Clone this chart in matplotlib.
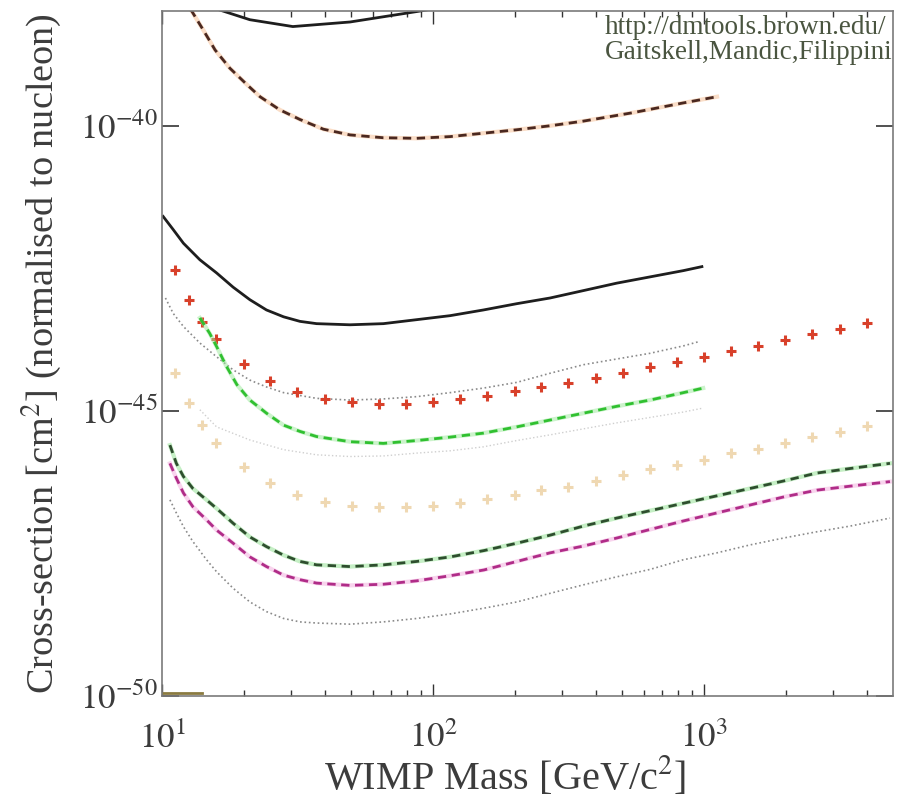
import numpy as np
import matplotlib.pyplot as plt
import matplotlib.ticker as ticker

plt.rcParams['font.family'] = ['Liberation Serif', 'DejaVu Serif']
plt.rcParams['mathtext.fontset'] = 'stix'

# WIMP masses in GeV/c^2, cross-sections given as log10(sigma / cm^2)
top_solid_mass = [11.5, 16.1, 21.1, 30.4, 49.4, 91.8, 130]
top_solid_logsig = [-37.3, -37.96, -38.14, -38.26, -38.18, -37.98, -37.85]

upper_dash_mass = [11.0, 12.9, 14.2, 15.7, 17.8, 20.6, 23.0, 27.2, 32.3, 39.4, 49.4,
                   65.6, 87.1, 115.6, 153.5, 203.7, 270.4, 357, 547, 837, 1117]
upper_dash_logsig = [-37.6, -37.995, -38.32, -38.67, -38.99, -39.28, -39.49, -39.72,
                     -39.89, -40.06, -40.16, -40.21, -40.22, -40.19, -40.13, -40.07,
                     -40.0, -39.92, -39.77, -39.60, -39.49]

mid_solid_mass = [10.1, 11.0, 12.0, 13.8, 15.9, 18.3, 21.1, 24.3, 28.1, 32.3, 37.2, 49.4,
                  65.6, 87.1, 115.6, 153.5, 203.7, 270.4, 359, 476, 632, 839, 982]
mid_solid_logsig = [-41.59, -41.82, -42.06, -42.35, -42.58, -42.83, -43.05, -43.23,
                    -43.35, -43.43, -43.47, -43.49, -43.47, -43.40, -43.33, -43.23,
                    -43.12, -43.02, -42.89, -42.76, -42.65, -42.54, -42.47]

cross_mass = [11.2, 12.6, 14.1, 15.8, 20.0, 25.1, 31.6, 39.8, 50.1, 63.1, 79.4, 100,
              126, 158, 200, 251, 316, 398, 501, 631, 794, 1000, 1259, 1585, 1995,
              2512, 3162, 3981]
red_cross_logsig = [-42.53, -43.05, -43.44, -43.74, -44.18, -44.47, -44.67, -44.79,
                    -44.84, -44.88, -44.88, -44.84, -44.79, -44.74, -44.65, -44.58,
                    -44.51, -44.42, -44.33, -44.23, -44.14, -44.05, -43.95, -43.86,
                    -43.75, -43.65, -43.56, -43.46]
tan_cross_logsig = [-44.33, -44.86, -45.25, -45.56, -45.98, -46.26, -46.47, -46.60,
                    -46.67, -46.68, -46.68, -46.67, -46.61, -46.54, -46.47, -46.39,
                    -46.33, -46.23, -46.12, -46.02, -45.95, -45.86, -45.74, -45.67,
                    -45.56, -45.46, -45.37, -45.26]

gray_dot_mass = [10.3, 11.0, 12.0, 13.8, 15.9, 18.3, 21.1, 24.3, 28.1, 37.2, 49.4, 65.6,
                 87.1, 115.6, 153.5, 203.7, 270.4, 359, 476, 632, 839, 966]
gray_dot_logsig = [-43.02, -43.29, -43.52, -43.81, -44.05, -44.28, -44.46, -44.58,
                   -44.68, -44.78, -44.81, -44.79, -44.75, -44.68, -44.60, -44.50,
                   -44.34, -44.19, -44.09, -43.99, -43.86, -43.78]

green_dash_mass = [13.8, 15.0, 15.9, 17.3, 18.9, 21.1, 24.3, 28.1, 32.3, 37.2, 49.4,
                   65.6, 87.1, 115.6, 153.5, 203.7, 270.4, 359, 476, 632, 839, 993]
green_dash_logsig = [-43.37, -43.64, -43.87, -44.22, -44.54, -44.81, -45.04, -45.25,
                     -45.36, -45.45, -45.54, -45.57, -45.52, -45.46, -45.39, -45.28,
                     -45.16, -45.04, -44.92, -44.81, -44.68, -44.60]

faint_dot_mass = [13.8, 15.9, 21.1, 28.1, 37.2, 49.4, 65.6, 87.1, 115.6, 153.5, 203.7,
                  270.4, 476, 839, 993]
faint_dot_logsig = [-44.98, -45.28, -45.51, -45.68, -45.77, -45.80, -45.79, -45.74,
                    -45.70, -45.63, -45.52, -45.42, -45.21, -45.02, -44.95]

long_mass = [10.7, 11.3, 12.0, 13.0, 14.6, 15.9, 18.3, 21.1, 24.3, 28.1, 32.3, 37.2,
             49.4, 65.6, 87.1, 116, 154, 204, 270, 359, 476, 632, 839, 1114, 1479,
             1963, 2606, 3459, 4853]
dark_green_logsig = [-45.60, -45.92, -46.15, -46.36, -46.56, -46.71, -46.97, -47.21,
                     -47.38, -47.53, -47.64, -47.70, -47.73, -47.70, -47.64, -47.56,
                     -47.45, -47.32, -47.18, -47.02, -46.88, -46.75, -46.62, -46.49,
                     -46.36, -46.23, -46.09, -46.01, -45.92]
magenta_logsig = [-45.92, -46.18, -46.44, -46.68, -46.91, -47.09, -47.32, -47.56,
                  -47.73, -47.88, -47.96, -48.02, -48.06, -48.04, -47.98, -47.89,
                  -47.79, -47.64, -47.49, -47.37, -47.23, -47.08, -46.93, -46.79,
                  -46.65, -46.51, -46.39, -46.32, -46.24]
bottom_dot_logsig = [-46.56, -46.79, -47.03, -47.29, -47.61, -47.82, -48.11, -48.35,
                     -48.52, -48.64, -48.70, -48.72, -48.74, -48.70, -48.64, -48.56,
                     -48.46, -48.35, -48.20, -48.05, -47.91, -47.78, -47.61, -47.49,
                     -47.35, -47.23, -47.12, -47.02, -46.88]

floor_mass = [10.0, 14.0]
floor_logsig = [-49.95, -49.95]

y_ticks = [1e-50, 1e-45, 1e-40]
credit_lines = ['http://dmtools.brown.edu/', 'Gaitskell,Mandic,Filippini']


def sig(v):
    return 10.0 ** np.asarray(v)


fig = plt.figure(figsize=(9.13, 7.97), dpi=100)
ax = fig.add_axes([0.1774, 0.1267, 0.8007, 0.8601])
ax.set_xscale('log')
ax.set_yscale('log')

dash = (0, (3, 2))

ax.plot(top_solid_mass, sig(top_solid_logsig), color='#1e1e1e', lw=2)

ax.plot(upper_dash_mass, sig(upper_dash_logsig), color='#f2a060', lw=3, alpha=0.35)
ax.plot(upper_dash_mass, sig(upper_dash_logsig), color='#4a2820', lw=2, ls=dash)

ax.plot(mid_solid_mass, sig(mid_solid_logsig), color='#1e1e1e', lw=2)

ax.plot(gray_dot_mass, sig(gray_dot_logsig), color='#8a8a8a', lw=1.2, ls=':')
ax.plot(cross_mass, sig(red_cross_logsig), ls='none', marker='+', ms=6.5, mew=2.2,
        color='#d8402a')

ax.plot(green_dash_mass, sig(green_dash_logsig), color='#9be89b', lw=3, alpha=0.5)
ax.plot(green_dash_mass, sig(green_dash_logsig), color='#30c030', lw=2, ls=dash)
ax.plot(faint_dot_mass, sig(faint_dot_logsig), color='#cfcfcf', lw=1, ls=':')

ax.plot(cross_mass, sig(tan_cross_logsig), ls='none', marker='+', ms=6.5, mew=2.2,
        color='#efd8b2')

ax.plot(long_mass, sig(dark_green_logsig), color='#7fdc7f', lw=3, alpha=0.45)
ax.plot(long_mass, sig(dark_green_logsig), color='#2e4e2e', lw=2, ls=dash)
ax.plot(long_mass, sig(magenta_logsig), color='#f0a0d8', lw=3, alpha=0.45)
ax.plot(long_mass, sig(magenta_logsig), color='#b02c88', lw=2, ls=dash)
ax.plot(long_mass, sig(bottom_dot_logsig), color='#8a8a8a', lw=1.2, ls=':')

ax.plot(floor_mass, sig(floor_logsig), color='#8a7a40', lw=2)

ax.set_xlim(10, 4980)
ax.set_ylim(1e-50, 1.05e-38)

ax.yaxis.set_major_locator(ticker.FixedLocator(y_ticks))
ax.yaxis.set_minor_locator(ticker.NullLocator())
ax.xaxis.set_major_locator(ticker.LogLocator(base=10))
ax.xaxis.set_minor_locator(ticker.LogLocator(base=10, subs=np.arange(2, 10)))
fmt = ticker.FuncFormatter(lambda v, p: r'$10^{%d}$' % round(np.log10(v)))
ax.xaxis.set_major_formatter(fmt)
ax.yaxis.set_major_formatter(fmt)
ax.xaxis.set_minor_formatter(ticker.NullFormatter())

ax.tick_params(which='both', direction='in', top=True, right=True, colors='#333333',
               labelcolor='#3c3c3c', labelsize=25)
ax.tick_params(axis='x', which='major', length=9, width=1, pad=19)
ax.tick_params(axis='x', which='minor', length=4.5, width=1)
ax.tick_params(axis='y', which='major', length=12, width=1.2, pad=3)
for s in ax.spines.values():
    s.set_color('#7a7a7a')
    s.set_linewidth(1.2)

ax.set_xlabel('WIMP Mass [GeV/c$^2$]', fontsize=29, color='#3c3c3c')
ax.xaxis.set_label_coords(0.469, -0.086)
ax.set_ylabel('Cross-section [cm$^2$] (normalised to nucleon)', fontsize=27.5,
              color='#3c3c3c')
ax.yaxis.set_label_coords(-0.135, 0.5)

ax.text(0.606, 0.994, '\n'.join(credit_lines), transform=ax.transAxes, ha='left',
        va='top', fontsize=19.5, color='#4a5540', linespacing=1.0, clip_on=True)

fig.savefig('out.png', dpi=100)
